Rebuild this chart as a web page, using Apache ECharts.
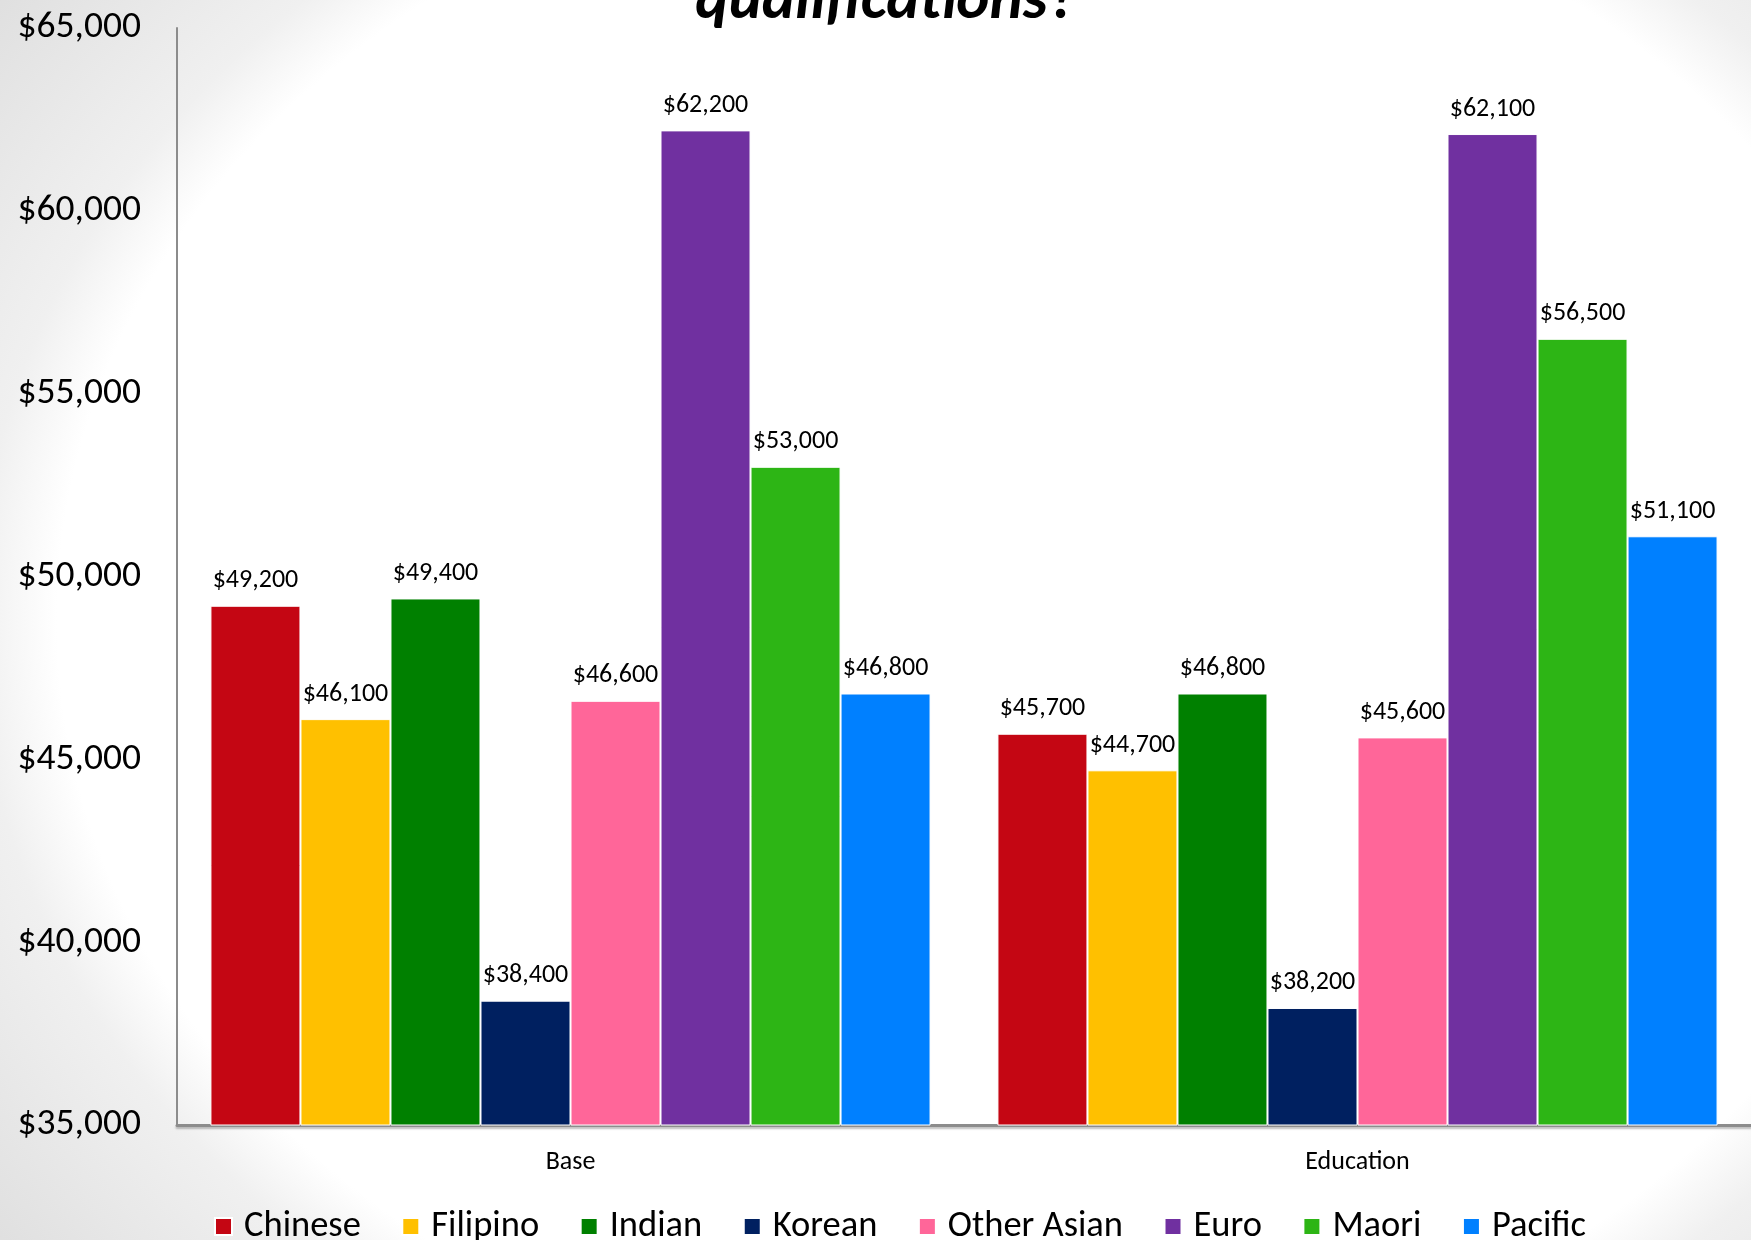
<!DOCTYPE html>
<html><head><meta charset="utf-8">
<script src="https://cdn.jsdelivr.net/npm/echarts@6/dist/echarts.min.js"></script>
<style>
html,body{margin:0;padding:0;}
#c{width:1751px;height:1240px;
background: radial-gradient(ellipse 1150px 950px at 1000px 620px, #ffffff 0%, #ffffff 82%, #f0f0f0 89%, #e7e7e7 100%, #dddddd 112%);}
</style>
</head><body><div id="c"></div>
<script>
const categories = ['Base', 'Education'];
const seriesNames = ['Chinese', 'Filipino', 'Indian', 'Korean', 'Other Asian', 'Euro', 'Maori', 'Pacific'];
const chinese = [49200, 45700];
const filipino = [46100, 44700];
const indian = [49400, 46800];
const korean = [38400, 38200];
const otherAsian = [46600, 45600];
const euro = [62200, 62100];
const maori = [53000, 56500];
const pacific = [46800, 51100];
const seriesValues = [chinese, filipino, indian, korean, otherAsian, euro, maori, pacific];
const colors = ['#C40613', '#FFC000', '#008000', '#002060', '#FF6699', '#7030A0', '#2DB515', '#0080FF'];
const yTicks = [35000, 40000, 45000, 50000, 55000, 60000, 65000];

const FONT = 'Carlito, Calibri, "Noto Sans", sans-serif';
const fmt = v => '$' + v.toLocaleString('en-US');

const chart = echarts.init(document.getElementById('c'));
chart.setOption({
  backgroundColor: 'transparent',
  color: colors,
  title: {
    text: 'qualifications?',
    left: 881, textAlign: 'center', top: -34,
    textStyle: {fontFamily: FONT, fontSize: 63, fontWeight: 'bold', fontStyle: 'italic', color: '#000'}
  },
  grid: {left: 177, right: -2, top: 28, bottom: 115, containLabel: false},
  legend: {
    data: seriesNames,
    left: 209, top: 1203,
    icon: 'rect', itemWidth: 17, itemHeight: 17, itemGap: 40.5,
    textStyle: {fontFamily: FONT, fontSize: 36.5, color: '#000', padding: [0, 0, 0, 7]}
  },
  xAxis: {
    type: 'category', data: categories,
    axisLine: {lineStyle: {color: '#8c8c8c', width: 3, shadowColor: 'rgba(0,0,0,0.25)', shadowOffsetY: 2, shadowBlur: 2}},
    axisTick: {show: false},
    axisLabel: {fontFamily: FONT, fontSize: 26, color: '#000', margin: 24}
  },
  yAxis: {
    type: 'value', min: 35000, max: 65000, interval: 5000,
    axisLine: {show: true, lineStyle: {color: '#8c8c8c', width: 2}},
    axisTick: {show: false},
    splitLine: {show: false},
    axisLabel: {fontFamily: FONT, fontSize: 37.5, color: '#000', margin: 36, formatter: v => yTicks.includes(v) ? fmt(v) : ''}
  },
  series: seriesNames.map((name, i) => ({
    name, type: 'bar', data: seriesValues[i],
    barGap: '0%', barCategoryGap: '8.5%',
    itemStyle: {color: colors[i], borderColor: '#ffffff', borderWidth: 1},
    label: {show: true, position: 'top', distance: 12, fontFamily: FONT, fontSize: 26, color: '#000', formatter: p => fmt(p.value)}
  }))
});
</script></body></html>
